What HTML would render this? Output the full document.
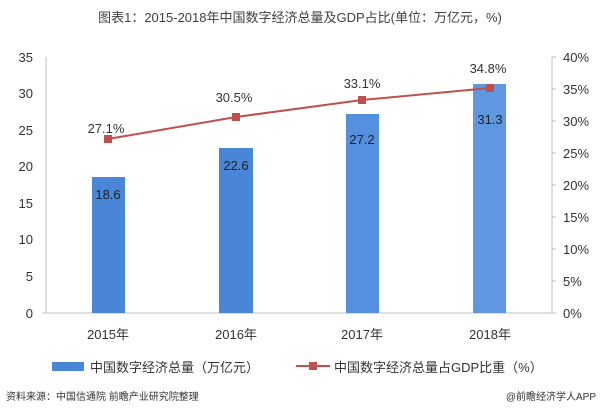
<!DOCTYPE html><html><head><meta charset="utf-8"><style>body{margin:0;background:#fff}svg text{font-family:"Liberation Sans","Noto Sans CJK SC",sans-serif}</style></head><body>
<svg width="600" height="411" xmlns="http://www.w3.org/2000/svg">
<text x="300" y="22" font-size="13" fill="#404040" text-anchor="middle">图表1：2015-2018年中国数字经济总量及GDP占比(单位：万亿元，%)</text>
<g font-size="13" fill="#333" text-anchor="end">
<text x="33" y="62">35</text><text x="33" y="98">30</text><text x="33" y="135">25</text><text x="33" y="171">20</text><text x="33" y="208">15</text><text x="33" y="244">10</text><text x="33" y="281">5</text><text x="33" y="318">0</text></g>
<g font-size="13" fill="#333" text-anchor="start">
<text x="563" y="62">40%</text><text x="563" y="94">35%</text><text x="563" y="126">30%</text><text x="563" y="158">25%</text><text x="563" y="190">20%</text><text x="563" y="222">15%</text><text x="563" y="254">10%</text><text x="563" y="286">5%</text><text x="563" y="318">0%</text></g>
<g stroke="#bfbfbf" stroke-width="1"><line x1="46" y1="57" x2="46" y2="313"/><line x1="42" y1="313" x2="556" y2="313"/><line x1="552" y1="57" x2="552" y2="313"/>
<line x1="552" y1="57" x2="556" y2="57"/><line x1="552" y1="89" x2="556" y2="89"/><line x1="552" y1="121" x2="556" y2="121"/><line x1="552" y1="153" x2="556" y2="153"/><line x1="552" y1="185" x2="556" y2="185"/><line x1="552" y1="217" x2="556" y2="217"/><line x1="552" y1="249" x2="556" y2="249"/><line x1="552" y1="281" x2="556" y2="281"/></g>
<g fill="#4a86d8"><rect x="92" y="177" width="33" height="136"/><rect x="219" y="148" width="34" height="165"/><rect x="346" y="114" width="33" height="199" fill="#5590de"/><rect x="473" y="84" width="33" height="229" fill="#5f97e0"/></g>
<g font-size="13" fill="#222" text-anchor="middle"><text x="108" y="199">18.6</text><text x="236" y="170">22.6</text><text x="362" y="144">27.2</text><text x="490" y="124">31.3</text></g>
<polyline points="108,139 236,117 362,100 490,88" fill="none" stroke="#c0504d" stroke-width="2"/>
<g fill="#c0504d"><rect x="104" y="135" width="8" height="8"/><rect x="232" y="113" width="8" height="8"/><rect x="358" y="96" width="8" height="8"/><rect x="486" y="84" width="8" height="8"/></g>
<g font-size="13" fill="#333" text-anchor="middle"><text x="106" y="133">27.1%</text><text x="234" y="102">30.5%</text><text x="362" y="88">33.1%</text><text x="488" y="73">34.8%</text>
<text x="108" y="339">2015年</text><text x="236" y="339">2016年</text><text x="362" y="339">2017年</text><text x="490" y="339">2018年</text></g>
<rect x="52" y="362" width="32" height="9" fill="#4a86d8"/>
<text x="90" y="372" font-size="13" fill="#333">中国数字经济总量（万亿元）</text>
<line x1="296" y1="366" x2="330" y2="366" stroke="#c0504d" stroke-width="2"/><rect x="309" y="362" width="8" height="8" fill="#c0504d"/>
<text x="334" y="372" font-size="13" fill="#333">中国数字经济总量占GDP比重（%）</text>
<text x="6" y="400" font-size="10" fill="#333">资料来源：中国信通院 前瞻产业研究院整理</text>
<text x="596" y="400" font-size="10" fill="#333" text-anchor="end">@前瞻经济学人APP</text>
</svg></body></html>
